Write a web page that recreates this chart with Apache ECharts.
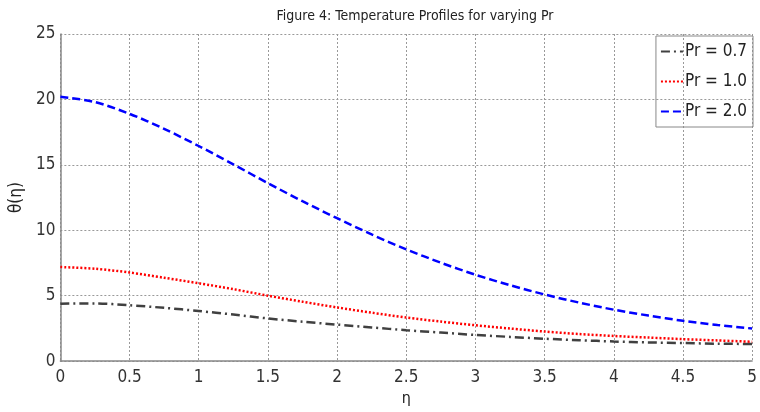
<!DOCTYPE html>
<html>
<head>
<meta charset="utf-8">
<script src="https://cdn.jsdelivr.net/npm/echarts@6/dist/echarts.min.js"></script>
<style>
html, body { margin: 0; padding: 0; background: #fff; }
#chart { width: 760px; height: 412px; }
</style>
</head>
<body>
<div id="chart"></div>
<script>
var eta = [0, 0.25, 0.5, 0.75, 1, 1.25, 1.5, 1.75, 2, 2.25, 2.5, 2.75, 3, 3.25, 3.5, 3.75, 4, 4.25, 4.5, 4.75, 5];
var pr07 = [4.39, 4.41, 4.27, 4.07, 3.83, 3.56, 3.26, 3.01, 2.79, 2.57, 2.36, 2.18, 2.0, 1.85, 1.71, 1.6, 1.5, 1.43, 1.38, 1.33, 1.31];
var pr10 = [7.19, 7.06, 6.77, 6.37, 5.95, 5.5, 5.0, 4.54, 4.1, 3.7, 3.33, 3.02, 2.74, 2.49, 2.26, 2.07, 1.92, 1.8, 1.68, 1.58, 1.48];
var pr20 = [20.2, 19.8, 18.9, 17.75, 16.44, 15.04, 13.6, 12.22, 10.92, 9.68, 8.54, 7.52, 6.6, 5.8, 5.09, 4.47, 3.93, 3.48, 3.08, 2.76, 2.49];
var xTicks = ['0', '0.5', '1', '1.5', '2', '2.5', '3', '3.5', '4', '4.5', '5'];

var font = "'DejaVu Sans Condensed', 'Liberation Sans Narrow', sans-serif";

function pairs(ys) {
    return eta.map(function(x, i) { return [x, ys[i]]; });
}

var myChart = echarts.init(document.getElementById('chart'));
var option = {
    animation: false,
    title: {
        text: 'Figure 4: Temperature Profiles for varying Pr',
        left: 410,
        textAlign: 'center',
        top: 4,
        textStyle: { fontFamily: font, fontSize: 14, fontWeight: 'normal', color: '#222' }
    },
    legend: {
        orient: 'vertical',
        right: 7,
        top: 36,
        itemWidth: 22,
        itemHeight: 10,
        itemGap: 13,
        padding: [7, 6, 7, 4],
        borderColor: '#888',
        borderWidth: 1,
        itemStyle: { opacity: 0 },
        textStyle: { fontFamily: font, fontSize: 17, color: '#222', padding: [0, 0, 0, -3] },
        data: ['Pr = 0.7', 'Pr = 1.0', 'Pr = 2.0']
    },
    grid: { left: 59, right: 1, top: 34, bottom: 40 },
    xAxis: {
        type: 'value',
        min: 0,
        max: 5,
        interval: 0.5,
        name: 'η',
        nameLocation: 'middle',
        nameGap: 22,
        nameTextStyle: { fontFamily: font, fontSize: 16, color: '#222' },
        axisLine: { lineStyle: { color: '#888', width: 1.5 } },
        axisTick: { show: false },
        axisLabel: {
            fontFamily: font, fontSize: 17, color: '#333', margin: 8,
            formatter: function(v) { return xTicks[Math.round(v * 2)]; }
        },
        splitLine: { lineStyle: { color: '#999', type: [2, 2], width: 1 } }
    },
    yAxis: {
        type: 'value',
        min: 0,
        max: 25,
        interval: 5,
        name: 'θ(η)',
        nameLocation: 'middle',
        nameGap: 28,
        nameTextStyle: { fontFamily: font, fontSize: 17, color: '#222' },
        axisLine: { show: true, lineStyle: { color: '#888', width: 1.5 } },
        axisTick: { show: false },
        axisLabel: { fontFamily: font, fontSize: 17, color: '#333', margin: 5 },
        splitLine: { lineStyle: { color: '#999', type: [2, 2], width: 1 } }
    },
    series: [{
        name: 'Pr = 0.7',
        type: 'line',
        smooth: 0.3,
        symbol: 'none',
        data: pairs(pr07),
        lineStyle: { color: '#404040', width: 2.5, type: [9, 4, 2, 4] },
        itemStyle: { color: '#404040' }
    }, {
        name: 'Pr = 1.0',
        type: 'line',
        smooth: 0.3,
        symbol: 'none',
        data: pairs(pr10),
        lineStyle: { color: '#ff0000', width: 2.5, type: [2, 2] },
        itemStyle: { color: '#ff0000' }
    }, {
        name: 'Pr = 2.0',
        type: 'line',
        smooth: 0.3,
        symbol: 'none',
        data: pairs(pr20),
        lineStyle: { color: '#0000ff', width: 2.5, type: [8, 4] },
        itemStyle: { color: '#0000ff' }
    }]
};
myChart.setOption(option);
</script>
</body>
</html>
